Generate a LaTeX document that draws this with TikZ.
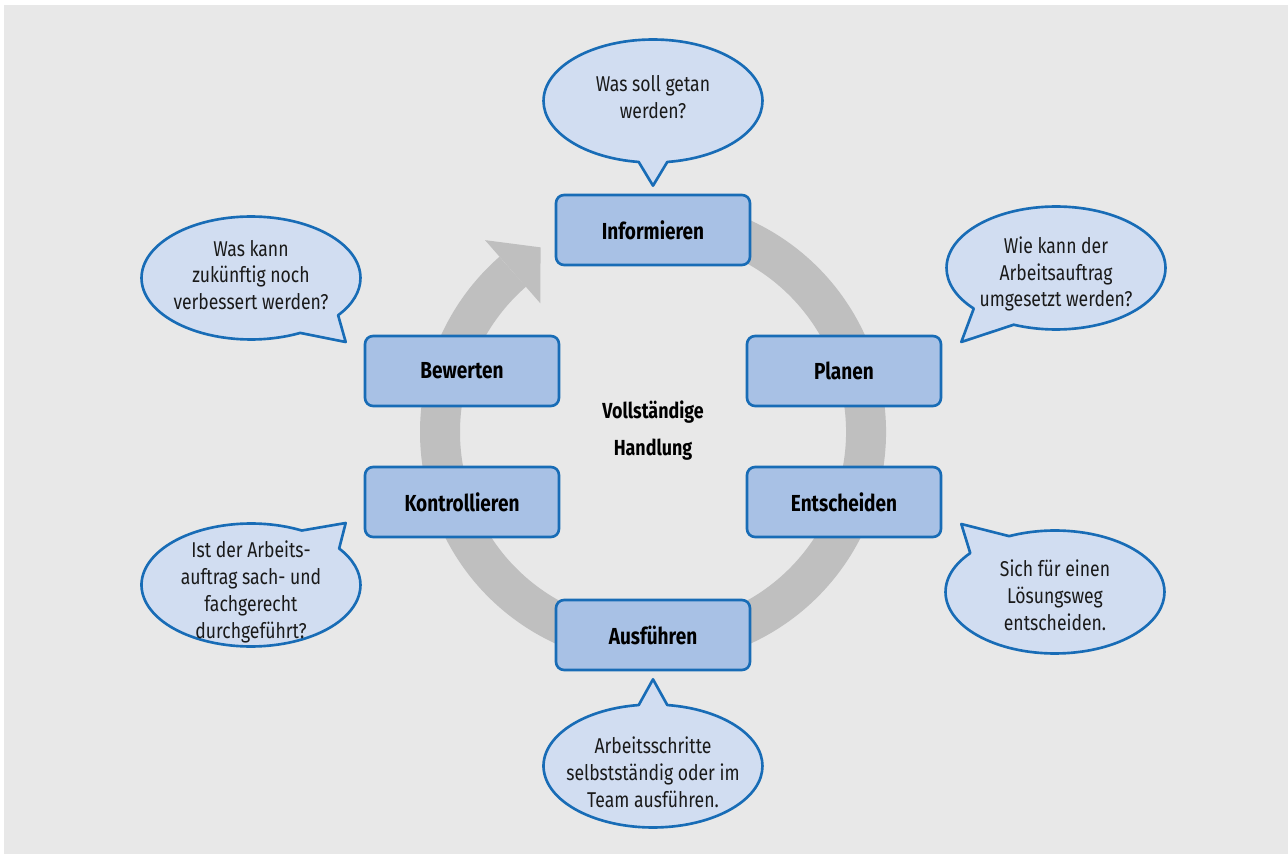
\documentclass[tikz,border=0pt]{standalone}
\usepackage{fontspec}
\setmainfont{Fira Sans}[FakeStretch=0.82]
\usetikzlibrary{calc,positioning,shapes.callouts}

\definecolor{bggray}{RGB}{232,232,232}
\definecolor{ringgray}{RGB}{191,191,191}
\definecolor{boxblue}{RGB}{168,193,229}
\definecolor{bubbleblue}{RGB}{209,221,241}
\definecolor{lineblue}{RGB}{24,108,182}
\definecolor{textdark}{RGB}{26,26,26}

\tikzset{
	phase/.style={draw=lineblue, line width=1.5pt, fill=boxblue, rounded corners=0.16cm,
		minimum width=3.88cm, minimum height=1.4cm, inner sep=0pt,
		font=\fontsize{13.2}{15.3}\selectfont\bfseries},
	bubble/.style={ellipse callout, draw=lineblue, line width=1.5pt, fill=bubbleblue,
		minimum width=4.38cm, minimum height=2.46cm, inner sep=0pt},
	bubbletext/.style={align=center, inner sep=0pt, text=textdark}
}

\begin{document}
\begin{tikzpicture}[x=0.02cm, y=-0.02cm, line join=round,
		every node/.append style={font=\fontsize{12.2}{15.3}\selectfont}]
	
	% --- canvas ---
	\useasboundingbox (0,0) rectangle (1288,854);
	\fill[bggray] (4,5) rectangle (1288,854);
	
	% --- circular arrow behind the phases ---
	\coordinate (c) at (653,432);
	\draw[ringgray, line width=0.8cm] ($(c)+(250:213)$) arc[start angle=250, end angle=588.8, radius=213];
	\fill[ringgray] ($(c)+(228.8:255)$) -- ($(c)+(228.8:213)+(318.8:37)$) -- ($(c)+(228.8:171)$) -- cycle;
	
	% --- the six phases ---
	\node[phase] (inf) at (653,230) {Informieren};
	\node[phase] (pla) at (844,371) {Planen};
	\node[phase] (ent) at (844,502) {Entscheiden};
	\node[phase] (aus) at (653,635) {Ausführen};
	\node[phase] (kon) at (462,502) {Kontrollieren};
	\node[phase] (bew) at (462,371) {Bewerten};
	
	\node[align=center, font=\fontsize{12.4}{21}\selectfont\bfseries] (title) at (653,431) {Vollständige\\Handlung};
	
	% --- speech bubbles ---
	\node[bubble, callout absolute pointer={($(inf.north)+(0,-8)$)}] (qinf) at (653,101) {};
	\node[bubbletext] (tinf) at (653,97) {Was soll getan\\werden?};
	
	\node[bubble, callout pointer arc=26, callout absolute pointer={($(pla.east)+(19,-29)$)}] (qpla) at (1056,268) {};
	\node[bubbletext] (tpla) at (1056,274) {Wie kann der\\Arbeitsauftrag\\umgesetzt werden?};
	
	\node[bubble, callout pointer arc=26, callout absolute pointer={($(ent.east)+(19,22)$)}] (qent) at (1055,592) {};
	\node[bubbletext] (tent) at (1055,595) {Sich für einen\\Lösungsweg\\entscheiden.};
	
	\node[bubble, callout absolute pointer={($(aus.south)+(0,8)$)}] (qaus) at (653,766) {};
	\node[bubbletext] (taus) at (653,772) {Arbeitsschritte\\selbstständig oder im\\Team ausführen.};
	
	\node[bubble, callout pointer arc=26, callout absolute pointer={($(kon.west)+(-18,21)$)}] (qkon) at (251,585) {};
	\node[bubbletext] (tkon) at (251,592) {Ist der Arbeits-\\auftrag sach- und\\fachgerecht\\durchgeführt?};
	
	\node[bubble, callout pointer arc=26, callout absolute pointer={($(bew.west)+(-18,-29)$)}] (qbew) at (251,278) {};
	\node[bubbletext] (tbew) at (251,275) {Was kann\\zukünftig noch\\verbessert werden?};
	
\end{tikzpicture}
\end{document}
